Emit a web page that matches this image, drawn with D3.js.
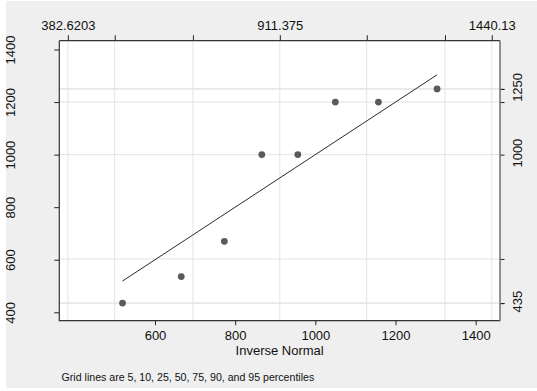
<!DOCTYPE html>
<html><head><meta charset="utf-8">
<script src="https://cdn.jsdelivr.net/npm/d3@7"></script>
<style>body{margin:0;background:#fff}svg{display:block}text{font-family:"Liberation Sans",Arial,Helvetica,sans-serif}</style>
</head><body><div id="chart"></div>
<script>
// Data
const observed = [435, 536, 670, 1000, 1000, 1200, 1200, 1250];
const invNormal = [519, 665.5, 773, 866.5, 956.3, 1049.8, 1157.3, 1303.7];
const refLine = [519, 1303.7];
// percentiles 5,10,25,50,75,90,95
const normPctl = [382.6203, 499.5, 694.6, 911.375, 1128.2, 1323.3, 1440.13];
const normPctlLabels = ["382.6203", "", "", "911.375", "", "", "1440.13"];
const dataPctl = [435, 435, 603, 1000, 1200, 1250, 1250];
const dataPctlLabels = ["435", "", "", "1000", "", "", "1250"];
const xTicks = [600, 800, 1000, 1200, 1400];
const yTicks = [400, 600, 800, 1000, 1200, 1400];
const xTitle = "Inverse Normal";
const note = "Grid lines are 5, 10, 25, 50, 75, 90, and 95 percentiles";

const W = 537, H = 391;
const L = 59.3, R = 500, T = 40.7, B = 320.7;
const svg = d3.select("#chart").append("svg").attr("width", W).attr("height", H);
svg.append("rect").attr("x", 6).attr("y", 1).attr("width", 531).attr("height", 387).attr("fill", "#efefef");
svg.append("rect").attr("x", L).attr("y", T).attr("width", R - L).attr("height", B - T).attr("fill", "#fff");

const x = d3.scaleLinear().domain([361.3, 1460.6]).range([L, R]);
const y = d3.scaleLinear().domain([368, 1433.5]).range([B, T]);

const grid = svg.append("g").attr("stroke", "#e4e4e4").attr("stroke-width", 1);
normPctl.forEach(v => grid.append("line").attr("x1", x(v)).attr("x2", x(v)).attr("y1", T).attr("y2", B));
dataPctl.forEach(v => grid.append("line").attr("y1", y(v)).attr("y2", y(v)).attr("x1", L).attr("x2", R));

// reference line
svg.append("line").attr("x1", x(refLine[0])).attr("y1", y(refLine[0]))
  .attr("x2", x(refLine[1])).attr("y2", y(refLine[1]))
  .attr("stroke", "#2a2a2a").attr("stroke-width", 1);

// points
svg.append("g").selectAll("circle").data(observed).join("circle")
  .attr("cx", (d, i) => x(invNormal[i])).attr("cy", d => y(d)).attr("r", 3.4).attr("fill", "#5a5a5a");

const fs = 13;
// bottom axis
const gb = svg.append("g").attr("transform", `translate(0,${B})`)
  .call(d3.axisBottom(x).tickValues(xTicks).tickSize(4.5).tickPadding(6).tickFormat(d3.format("d")));
// left axis
const gl = svg.append("g").attr("transform", `translate(${L},0)`)
  .call(d3.axisLeft(y).tickValues(yTicks).tickSize(5).tickFormat(d3.format("d")));
// top axis
const gt = svg.append("g").attr("transform", `translate(0,${T})`)
  .call(d3.axisTop(x).tickValues(normPctl).tickSize(5.5).tickPadding(5).tickFormat((d, i) => normPctlLabels[i]));
// right axis
const gr = svg.append("g").attr("transform", `translate(${R},0)`)
  .call(d3.axisRight(y).tickValues(dataPctl).tickSize(4.5).tickFormat((d, i) => dataPctlLabels[i]));

[gb, gl, gt, gr].forEach(g => {
  g.select(".domain").remove();
  g.selectAll(".tick line").attr("stroke", "#222");
  g.selectAll("text").attr("fill", "#111").attr("font-size", fs).attr("font-family", '"Liberation Sans",Arial,sans-serif');
});
// rotate left labels
gl.selectAll(".tick text").attr("x", null).attr("dy", null)
  .attr("text-anchor", "middle").attr("transform", "translate(-44.3,0) rotate(-90)");
gr.selectAll(".tick text").attr("x", null).attr("dy", null)
  .attr("text-anchor", "middle").attr("transform", "translate(21.7,-2) rotate(-90)");

// frame lines
svg.append("line").attr("x1", L).attr("x2", L).attr("y1", T).attr("y2", B + 0.5).attr("stroke", "#333").attr("stroke-width", 1.2);
svg.append("line").attr("x1", L).attr("x2", R).attr("y1", B).attr("y2", B).attr("stroke", "#333").attr("stroke-width", 1.2);
svg.append("line").attr("x1", L).attr("x2", R).attr("y1", T).attr("y2", T).attr("stroke", "#333").attr("stroke-width", 1.2);
svg.append("line").attr("x1", R).attr("x2", R).attr("y1", T).attr("y2", B + 0.5).attr("stroke", "#777").attr("stroke-width", 1.6);

svg.append("text").attr("x", (L + R) / 2).attr("y", 354.5).attr("text-anchor", "middle")
  .attr("font-size", fs).attr("fill", "#111").text(xTitle);
svg.append("text").attr("x", 61.6).attr("y", 380.5).attr("font-size", 10.6).attr("fill", "#111").text(note);
</script></body></html>
